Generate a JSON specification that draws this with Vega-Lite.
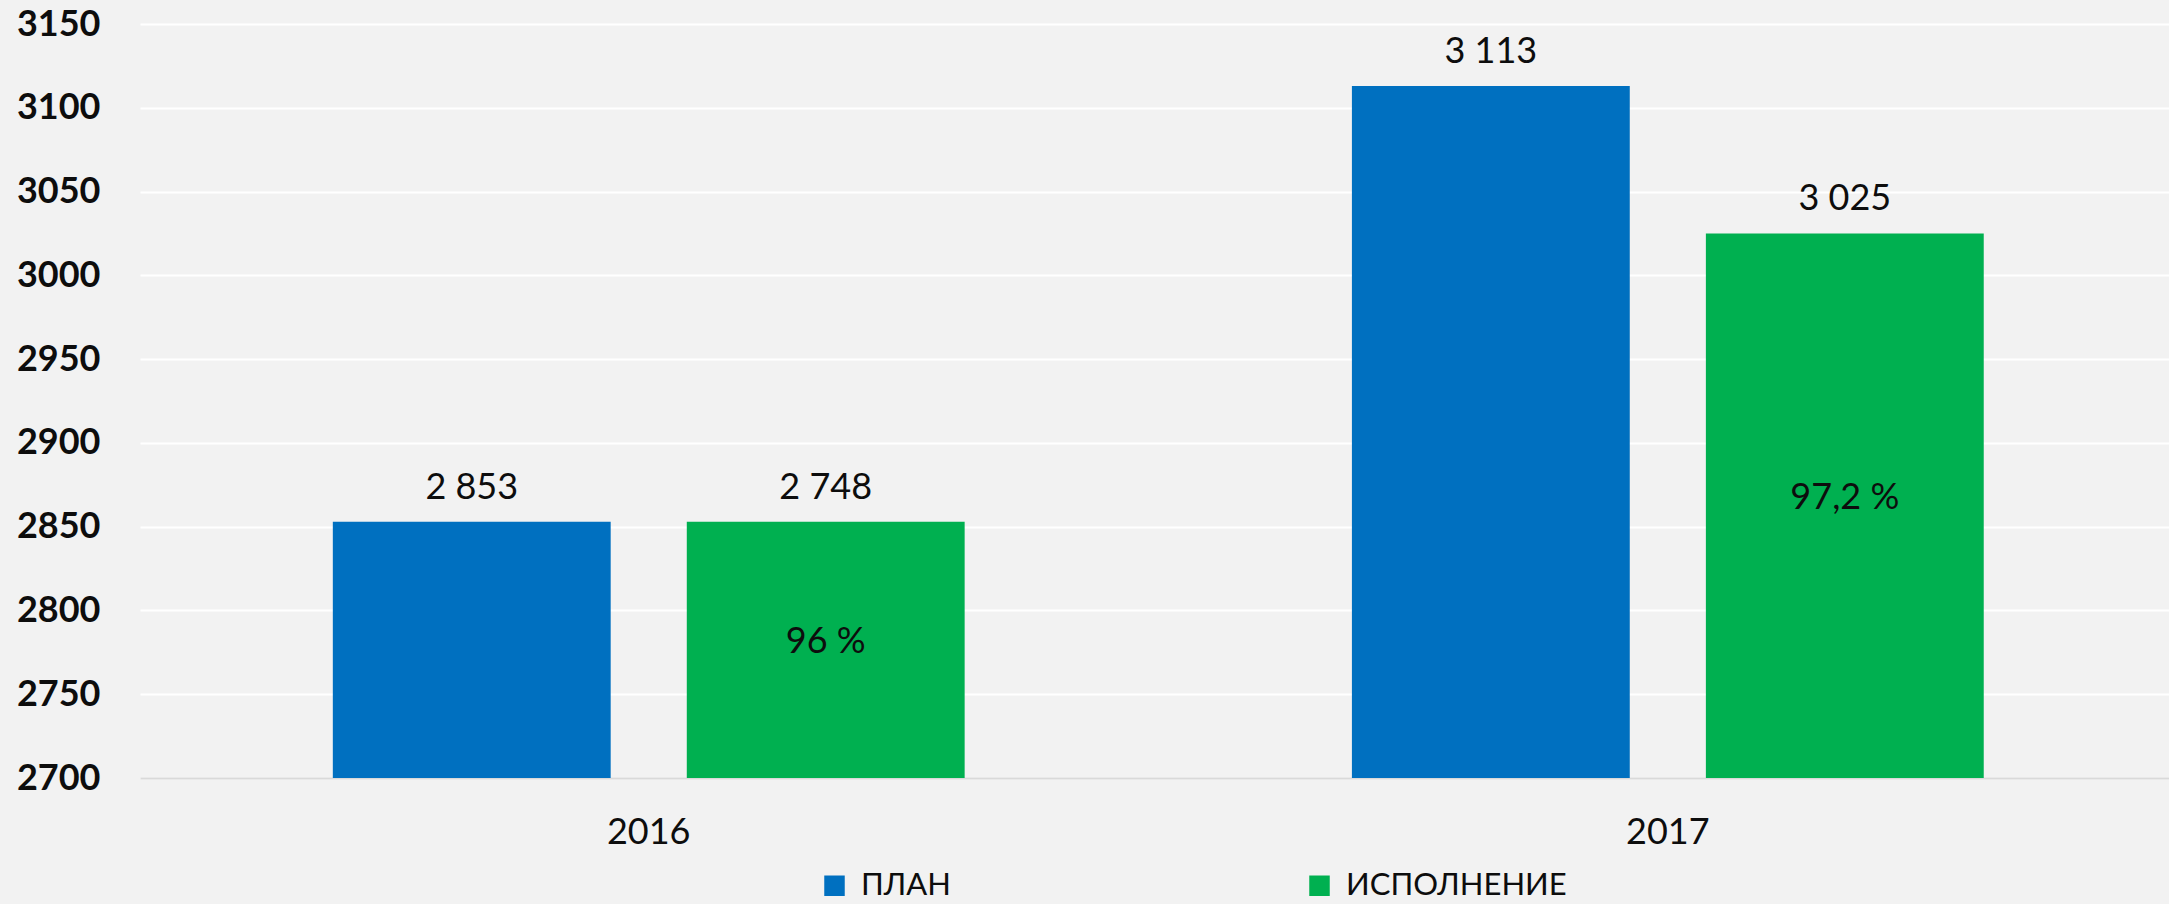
{
  "$schema": "https://vega.github.io/schema/vega-lite/v6.json",
  "autosize": {"type": "none"},
  "width": 2029,
  "height": 754,
  "padding": {"left": 140, "top": 24, "right": 0, "bottom": 126},
  "background": "#f2f2f2",
  "config": {
    "view": {"stroke": null},
    "font": "Lato",
    "text": {"font": "Lato"}
  },
  "data": {
    "values": [
      {"year": "2016", "series": "ПЛАН", "value": 2853, "label": "2 853", "pct": ""},
      {"year": "2016", "series": "ИСПОЛНЕНИЕ", "value": 2853, "label": "2 748", "pct": "96 %"},
      {"year": "2017", "series": "ПЛАН", "value": 3113, "label": "3 113", "pct": ""},
      {"year": "2017", "series": "ИСПОЛНЕНИЕ", "value": 3025, "label": "3 025", "pct": "97,2 %"}
    ]
  },
  "encoding": {
    "x": {
      "field": "year", "type": "nominal",
      "scale": {"paddingInner": 0.38, "paddingOuter": 0.1855, "align": 0.51},
      "axis": {
        "title": null, "labelAngle": 0, "ticks": false,
        "domainColor": "#d9d9d9", "domainWidth": 2,
        "labelFontSize": 36, "labelColor": "#0d0d0d", "labelPadding": 37,
        "labelFont": "Lato"
      }
    },
    "xOffset": {
      "field": "series", "type": "nominal",
      "sort": ["ПЛАН", "ИСПОЛНЕНИЕ"],
      "scale": {"paddingInner": 0.215, "paddingOuter": 0}
    },
    "y": {
      "field": "value", "type": "quantitative",
      "scale": {"domain": [2700, 3150], "zero": false, "nice": false},
      "axis": {
        "title": null, "values": [2700, 2750, 2800, 2850, 2900, 2950, 3000, 3050, 3100, 3150],
        "format": "d",
        "domain": false, "ticks": false,
        "gridColor": "#ffffff", "gridWidth": 2, "gridOpacity": 1,
        "labelFontSize": 36, "labelFontWeight": "bold", "labelColor": "#0d0d0d",
        "labelPadding": 40, "labelFont": "Lato"
      }
    }
  },
  "layer": [
    {
      "mark": {"type": "bar", "clip": true},
      "encoding": {
        "color": {
          "field": "series", "type": "nominal",
          "sort": ["ПЛАН", "ИСПОЛНЕНИЕ"],
          "scale": {"domain": ["ПЛАН", "ИСПОЛНЕНИЕ"], "range": ["#0070c0", "#00b050"]},
          "legend": {
            "title": null, "orient": "none", "direction": "horizontal", "columns": 2,
            "legendX": 679, "legendY": 846, "padding": 0,
            "symbolType": "square", "symbolSize": 420, "symbolStrokeWidth": 0,
            "labelFontSize": 31, "labelFont": "Lato", "labelColor": "#0d0d0d",
            "labelOffset": 11, "labelLimit": 500,
            "gridAlign": "all", "columnPadding": 222
          }
        }
      }
    },
    {
      "mark": {"type": "text", "baseline": "alphabetic", "dy": -23, "fontSize": 36, "color": "#0d0d0d"},
      "encoding": {"text": {"field": "label"}}
    },
    {
      "transform": [
        {"filter": "datum.pct != ''"},
        {"calculate": "(datum.value + 2700) / 2", "as": "mid"}
      ],
      "mark": {"type": "text", "baseline": "alphabetic", "dy": 3, "fontSize": 36, "color": "#0d0d0d"},
      "encoding": {
        "y": {"field": "mid", "type": "quantitative"},
        "text": {"field": "pct"}
      }
    }
  ]
}
